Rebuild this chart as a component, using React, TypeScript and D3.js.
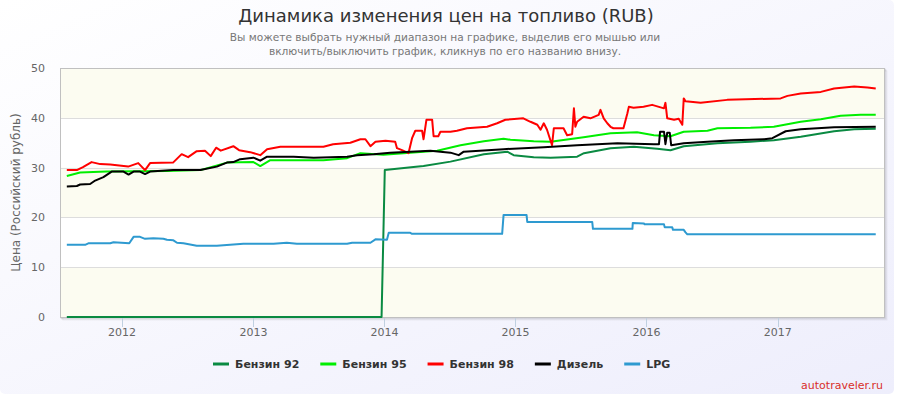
import React, { useEffect, useRef } from 'react';
import * as d3 from 'd3';

const titleText = 'Динамика изменения цен на топливо (RUB)';
const subtitleLines = [
  'Вы можете выбрать нужный диапазон на графике, выделив его мышью или',
  'включить/выключить график, кликнув по его названию внизу.',
];
const yAxisTitle = 'Цена (Российский рубль)';
const creditsText = 'autotraveler.ru';
const yTicks = [0, 10, 20, 30, 40, 50];
const seriesNames = ['Бензин 92', 'Бензин 95', 'Бензин 98', 'Дизель', 'LPG'];
const seriesColors = ['#0a8a42', '#00ee00', '#ff0000', '#000000', '#2e9ad0'];

const benzin92 = [
  ['2011-07-31', 0], ['2013-12-24', 0], ['2014-01-02', 29.5], ['2014-03-23', 30.1],
  ['2014-04-20', 30.3], ['2014-07-04', 31.2], ['2014-10-05', 32.7], ['2014-12-09', 33.2],
  ['2014-12-27', 32.5], ['2015-02-21', 32.1], ['2015-04-09', 32.0], ['2015-06-22', 32.2],
  ['2015-07-11', 32.9], ['2015-09-23', 33.9], ['2015-11-27', 34.2], ['2016-01-31', 33.8],
  ['2016-03-08', 33.5], ['2016-04-14', 34.3], ['2016-05-31', 34.6], ['2016-07-17', 34.9],
  ['2016-10-17', 35.2], ['2016-12-21', 35.5], ['2017-03-06', 36.2], ['2017-06-07', 37.3],
  ['2017-08-02', 37.7], ['2017-10-01', 37.8],
];

const benzin95 = [
  ['2011-07-31', 28.3], ['2011-09-06', 29.0], ['2011-11-19', 29.2], ['2012-05-05', 29.3],
  ['2012-08-06', 29.5], ['2012-10-19', 31.0], ['2013-01-01', 31.1], ['2013-01-20', 30.3],
  ['2013-02-17', 31.5], ['2013-07-15', 31.5], ['2013-09-19', 31.9], ['2013-10-26', 32.9],
  ['2013-12-29', 32.6], ['2014-03-14', 33.0], ['2014-05-28', 33.4], ['2014-08-01', 34.5],
  ['2014-10-05', 35.3], ['2014-11-29', 35.8], ['2014-12-18', 35.6], ['2015-02-21', 35.3],
  ['2015-04-09', 35.2], ['2015-07-10', 36.1], ['2015-09-23', 36.9], ['2015-12-06', 37.1],
  ['2016-01-22', 36.5], ['2016-03-08', 36.3], ['2016-04-14', 37.2], ['2016-06-19', 37.4],
  ['2016-07-17', 37.9], ['2016-10-17', 38.0], ['2016-12-21', 38.2], ['2017-03-06', 39.2],
  ['2017-05-01', 39.7], ['2017-06-25', 40.4], ['2017-08-20', 40.6], ['2017-10-01', 40.6],
];

const benzin98 = [
  ['2011-07-31', 29.5], ['2011-08-28', 29.5], ['2011-09-14', 30.1], ['2011-10-08', 31.1],
  ['2011-11-01', 30.7], ['2011-11-29', 30.6], ['2012-01-18', 30.2], ['2012-02-15', 30.9],
  ['2012-03-05', 29.5], ['2012-03-19', 30.9], ['2012-05-22', 31.0], ['2012-06-15', 32.7],
  ['2012-07-03', 32.1], ['2012-07-27', 33.3], ['2012-08-19', 33.4], ['2012-09-04', 32.3],
  ['2012-09-19', 34.0], ['2012-10-02', 33.4], ['2012-11-06', 34.3], ['2012-11-22', 33.5],
  ['2012-12-23', 33.1], ['2013-01-20', 32.5], ['2013-02-08', 33.7], ['2013-03-17', 34.2],
  ['2013-07-15', 34.2], ['2013-08-11', 34.7], ['2013-09-28', 35.0], ['2013-10-26', 35.7],
  ['2013-11-09', 35.7], ['2013-11-23', 34.3], ['2013-12-07', 35.2], ['2014-01-04', 35.4],
  ['2014-01-31', 35.2], ['2014-02-05', 33.9], ['2014-02-19', 33.5], ['2014-03-09', 32.9],
  ['2014-03-19', 35.9], ['2014-03-28', 37.4], ['2014-04-16', 37.4], ['2014-04-20', 35.7],
  ['2014-04-28', 39.6], ['2014-05-14', 39.6], ['2014-05-18', 36.3], ['2014-05-31', 36.3],
  ['2014-06-06', 37.2], ['2014-07-04', 37.2], ['2014-07-22', 37.4], ['2014-08-19', 37.9],
  ['2014-10-14', 38.2], ['2014-11-11', 38.9], ['2014-12-04', 39.6], ['2015-01-23', 39.9],
  ['2015-02-12', 39.2], ['2015-03-03', 38.6], ['2015-03-12', 37.6], ['2015-03-21', 38.9],
  ['2015-03-30', 37.6], ['2015-04-13', 34.5], ['2015-04-18', 37.9], ['2015-05-15', 37.9],
  ['2015-05-25', 36.5], ['2015-06-08', 36.7], ['2015-06-13', 41.9], ['2015-06-17', 38.2],
  ['2015-06-22', 39.2], ['2015-07-10', 40.2], ['2015-07-29', 39.9], ['2015-08-21', 40.6],
  ['2015-08-26', 41.6], ['2015-09-04', 39.9], ['2015-09-14', 38.9], ['2015-09-23', 38.2],
  ['2015-10-01', 37.9], ['2015-10-29', 37.9], ['2015-11-09', 40.9], ['2015-11-13', 42.2],
  ['2015-11-26', 42.0], ['2015-12-24', 42.2], ['2016-01-17', 42.6], ['2016-02-19', 41.9],
  ['2016-02-23', 43.0], ['2016-02-28', 39.9], ['2016-03-18', 39.6], ['2016-03-31', 39.8],
  ['2016-04-10', 38.6], ['2016-04-14', 43.9], ['2016-04-19', 43.3], ['2016-05-31', 43.0],
  ['2016-08-13', 43.6], ['2017-01-09', 43.9], ['2017-01-28', 44.4], ['2017-03-06', 44.9],
  ['2017-05-01', 45.2], ['2017-06-07', 45.9], ['2017-08-02', 46.3], ['2017-09-08', 46.1],
  ['2017-10-01', 45.9],
];

const dizel = [
  ['2011-07-31', 26.2], ['2011-08-28', 26.3], ['2011-09-06', 26.6], ['2011-10-04', 26.7],
  ['2011-10-18', 27.4], ['2011-11-10', 28.1], ['2011-12-03', 29.2], ['2012-01-05', 29.2],
  ['2012-01-19', 28.6], ['2012-02-02', 29.2], ['2012-02-20', 29.2], ['2012-03-05', 28.7],
  ['2012-03-19', 29.2], ['2012-05-22', 29.5], ['2012-08-06', 29.5], ['2012-09-21', 30.2],
  ['2012-10-19', 31.0], ['2012-11-06', 31.1], ['2012-11-25', 31.7], ['2013-01-01', 32.0],
  ['2013-01-20', 31.4], ['2013-02-08', 32.2], ['2013-04-23', 32.2], ['2013-06-18', 32.0],
  ['2013-09-19', 32.2], ['2013-10-17', 32.5], ['2013-12-02', 32.7], ['2014-01-17', 33.0],
  ['2014-05-09', 33.4], ['2014-07-04', 33.0], ['2014-07-27', 32.5], ['2014-08-10', 33.2],
  ['2014-11-29', 33.7], ['2015-03-21', 34.1], ['2015-06-22', 34.5], ['2015-10-12', 34.9],
  ['2016-01-22', 34.7], ['2016-02-05', 34.7], ['2016-02-08', 37.2], ['2016-02-19', 37.2],
  ['2016-02-23', 34.7], ['2016-02-28', 37.0], ['2016-03-06', 37.0], ['2016-03-10', 34.5],
  ['2016-04-14', 34.9], ['2016-06-19', 35.2], ['2016-09-01', 35.5], ['2016-11-24', 35.7],
  ['2016-12-17', 35.9], ['2017-01-23', 37.3], ['2017-03-06', 37.7], ['2017-06-07', 38.1],
  ['2017-10-01', 38.2],
];

const lpg = [
  ['2011-07-31', 14.5], ['2011-09-20', 14.5], ['2011-09-29', 14.8], ['2011-11-29', 14.8],
  ['2011-12-08', 15.0], ['2012-01-21', 14.8], ['2012-02-02', 16.1], ['2012-02-20', 16.1],
  ['2012-03-05', 15.7], ['2012-03-28', 15.8], ['2012-04-25', 15.7], ['2012-05-05', 15.5],
  ['2012-05-23', 15.4], ['2012-06-02', 14.9], ['2012-06-20', 14.8], ['2012-07-27', 14.3],
  ['2012-09-21', 14.3], ['2012-12-04', 14.7], ['2013-02-26', 14.7], ['2013-04-04', 14.9],
  ['2013-05-02', 14.7], ['2013-09-19', 14.7], ['2013-10-03', 14.9], ['2013-11-23', 14.9],
  ['2013-12-07', 15.6], ['2014-01-08', 15.5], ['2014-01-13', 16.9], ['2014-03-14', 16.9],
  ['2014-03-19', 16.7], ['2014-11-25', 16.7], ['2014-11-29', 20.5], ['2015-02-01', 20.5],
  ['2015-02-03', 19.1], ['2015-08-03', 19.1], ['2015-08-05', 17.7], ['2015-11-23', 17.7],
  ['2015-11-24', 18.9], ['2015-12-25', 18.8], ['2015-12-27', 18.6], ['2016-02-19', 18.6],
  ['2016-02-21', 18.0], ['2016-03-13', 18.0], ['2016-03-15', 17.5], ['2016-04-14', 17.5],
  ['2016-04-19', 17.0], ['2016-04-24', 16.6], ['2017-10-01', 16.6],
];

const allSeries = [benzin92, benzin95, benzin98, dizel, lpg];

const font = '"Lucida Grande", "Lucida Sans Unicode", Verdana, "DejaVu Sans", sans-serif';

function FuelChart() {
  const ref = useRef(null);

  useEffect(() => {
    const width = 894;
    const height = 394;
    const plot = { left: 60, top: 68, right: 884, bottom: 317 };
    const parse = d3.utcParse('%Y-%m-%d');

    const x = d3.scaleUtc()
      .domain([parse('2011-07-12'), parse('2017-10-24')])
      .range([plot.left, plot.right]);
    const y = d3.scaleLinear().domain([0, 50]).range([plot.bottom, plot.top]);

    const svg = d3.select(ref.current)
      .attr('width', width)
      .attr('height', height)
      .style('font-family', font);
    svg.selectAll('*').remove();

    const defs = svg.append('defs');
    const grad = defs.append('linearGradient')
      .attr('id', 'bg')
      .attr('x1', 0).attr('y1', 0).attr('x2', 1).attr('y2', 1);
    grad.append('stop').attr('offset', '0%').attr('stop-color', '#ffffff');
    grad.append('stop').attr('offset', '100%').attr('stop-color', '#eeeefc');
    defs.append('clipPath').attr('id', 'plotclip')
      .append('rect')
      .attr('x', plot.left).attr('y', plot.top - 2)
      .attr('width', plot.right - plot.left).attr('height', plot.bottom - plot.top + 4);

    svg.append('rect')
      .attr('width', width).attr('height', height)
      .attr('rx', 5)
      .attr('fill', 'url(#bg)');

    // plot shadow
    [3, 2, 1].forEach((o, i) => {
      svg.append('rect')
        .attr('x', plot.left + o).attr('y', plot.top + o)
        .attr('width', plot.right - plot.left).attr('height', plot.bottom - plot.top)
        .attr('fill', 'none')
        .attr('stroke', '#000')
        .attr('stroke-opacity', 0.05 * (i + 1))
        .attr('stroke-width', 1);
    });

    svg.append('rect')
      .attr('x', plot.left).attr('y', plot.top)
      .attr('width', plot.right - plot.left).attr('height', plot.bottom - plot.top)
      .attr('fill', '#ffffff');

    // alternating bands
    [0, 20, 40].forEach(v => {
      svg.append('rect')
        .attr('x', plot.left).attr('y', y(v + 10))
        .attr('width', plot.right - plot.left).attr('height', y(v) - y(v + 10))
        .attr('fill', '#fcfcf1');
    });

    svg.append('g')
      .selectAll('line')
      .data(yTicks.slice(1, -1))
      .join('line')
        .attr('x1', plot.left).attr('x2', plot.right)
        .attr('y1', d => Math.round(y(d)) + 0.5).attr('y2', d => Math.round(y(d)) + 0.5)
        .attr('stroke', '#dddddd');

    svg.append('rect')
      .attr('x', plot.left + 0.5).attr('y', plot.top + 0.5)
      .attr('width', plot.right - plot.left).attr('height', plot.bottom - plot.top)
      .attr('fill', 'none')
      .attr('stroke', '#c0c0c0');

    // x ticks
    const years = x.ticks(d3.utcYear.every(1));
    const xt = svg.append('g');
    xt.selectAll('line')
      .data(years)
      .join('line')
        .attr('x1', d => Math.round(x(d)) + 0.5).attr('x2', d => Math.round(x(d)) + 0.5)
        .attr('y1', plot.bottom + 1).attr('y2', plot.bottom + 10)
        .attr('stroke', '#c0d0e0');
    xt.selectAll('text')
      .data(years)
      .join('text')
        .attr('x', d => x(d)).attr('y', 336)
        .attr('text-anchor', 'middle')
        .attr('font-size', 11)
        .attr('fill', '#666')
        .text(d3.utcFormat('%Y'));

    svg.append('g')
      .selectAll('text')
      .data(yTicks)
      .join('text')
        .attr('x', 45).attr('y', d => y(d) + 4)
        .attr('text-anchor', 'end')
        .attr('font-size', 11)
        .attr('fill', '#666')
        .text(d => d);

    svg.append('text')
      .attr('transform', `translate(20,${(plot.top + plot.bottom) / 2}) rotate(-90)`)
      .attr('text-anchor', 'middle')
      .attr('font-size', 12)
      .attr('fill', '#666')
      .text(yAxisTitle);

    // series
    const line = d3.line()
      .x(d => x(parse(d[0])))
      .y(d => y(d[1]));
    svg.append('g')
      .attr('clip-path', 'url(#plotclip)')
      .selectAll('path')
      .data(allSeries)
      .join('path')
        .attr('d', d => line(d))
        .attr('fill', 'none')
        .attr('stroke', (d, i) => seriesColors[i])
        .attr('stroke-width', 2)
        .attr('stroke-linejoin', 'round');

    // title
    svg.append('text')
      .attr('x', width / 2 - 1).attr('y', 22)
      .attr('text-anchor', 'middle')
      .attr('font-size', 18)
      .attr('fill', '#333')
      .text(titleText);
    svg.append('g')
      .selectAll('text')
      .data(subtitleLines)
      .join('text')
        .attr('x', width / 2 - 2).attr('y', (d, i) => 41 + i * 14)
        .attr('text-anchor', 'middle')
        .attr('font-size', 10.6)
        .attr('fill', '#777')
        .text(d => d);

    // legend
    const legend = svg.append('g');
    let cursor = 0;
    seriesNames.forEach((name, i) => {
      const item = legend.append('g').attr('transform', `translate(${cursor},0)`);
      item.append('line')
        .attr('x1', 0).attr('x2', 16)
        .attr('y1', 364).attr('y2', 364)
        .attr('stroke', seriesColors[i])
        .attr('stroke-width', 3);
      const t = item.append('text')
        .attr('x', 22).attr('y', 368)
        .attr('font-size', 11)
        .attr('font-weight', 'bold')
        .attr('fill', '#333')
        .text(name);
      cursor += 22 + t.node().getComputedTextLength() + 21;
    });
    const legendWidth = cursor - 21;
    legend.attr('transform', `translate(${Math.round(442 - legendWidth / 2)},0)`);

    svg.append('text')
      .attr('x', 883).attr('y', 389)
      .attr('text-anchor', 'end')
      .attr('font-size', 11)
      .attr('fill', '#d9302a')
      .text(creditsText);
  }, []);

  return <svg ref={ref} style={{ position: 'absolute', left: 0, top: 0 }} />;
}

export default function App() {
  return <FuelChart />;
}
